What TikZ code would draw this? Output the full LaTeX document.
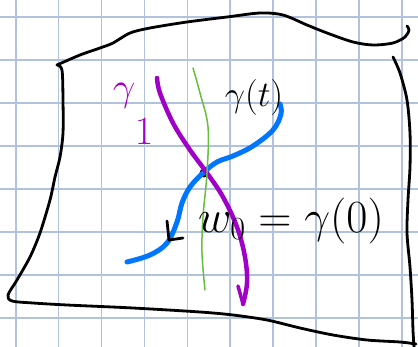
\RequirePackage{fix-cm}
\documentclass[tikz,border=0pt]{standalone}
\usepackage{tikz}
\usetikzlibrary{positioning}

\definecolor{gridblue}{RGB}{176,194,222}
\definecolor{inkpurple}{RGB}{160,0,200}
\definecolor{inkblue}{RGB}{0,118,255}
\definecolor{inkgreen}{RGB}{104,190,62}

\begin{document}
\begin{tikzpicture}[
    x=1pt, y=-1pt,
    gridline/.style={gridblue, line width=1.6pt},
    ink/.style={line width=2.8pt, line cap=round, line join=round},
    curve/.style={line cap=round, line join=round},
    hand/.style={inner sep=0pt, font=#1}
]
\useasboundingbox[fill=white] (0,0) rectangle (418,347);

% graph paper
\foreach \i in {0,...,9}
    \draw[gridline] (15.7+42.9*\i,0) -- (15.7+42.9*\i,347);
\foreach \j in {0,...,7}
    \draw[gridline] (0,17.3+43*\j) -- (418,17.3+43*\j);

% the region
\draw[ink] plot[smooth, tension=0.5] coordinates {(57,65) (80,55) (100,48) (113,43) (130,33) (150,28) (187,22) (227,17) (260,13) (283,15) (307,25) (327,33) (353,42) (373,45) (393,43) (405,37) (409,30) (407,26)};
\draw[ink] plot[smooth, tension=0.5] coordinates {(57,65) (62,70) (63,100) (63,133) (60,157) (55,177) (50,200) (40,233) (30,257) (17,280) (8,295) (12,301) (33,303) (67,305) (133,308) (200,312) (233,315) (267,320) (300,328) (333,335) (367,340) (400,342) (416,344)};
\draw[ink] plot[smooth, tension=0.5] coordinates {(393,57) (400,73) (407,100) (410,133) (410,167) (408,200) (407,233) (410,267) (412,300) (413,330) (414,347)};

% base point
\fill (204,173) circle (4.5);

% gamma(t)
\draw[curve, inkblue, line width=5pt] plot[smooth, tension=0.6] coordinates {(280,104) (281,114) (273,130) (253,146) (233,156) (217,162) (203,173) (190,187) (182,203) (177,222) (167,243) (150,255) (127,262)};
\draw[ink] (167,221) -- (169,240) -- (183,238);

% gamma_1
\draw[curve, inkpurple, line width=4.5pt] plot[smooth, tension=0.6] coordinates {(157,78) (160,93) (173,123) (190,150) (207,173) (223,197) (237,227) (245,257) (247,283) (243,304)};
\draw[curve, inkpurple, line width=3.5pt] (243,304) -- (238,286);

% green curve
\draw[curve, inkgreen, line width=1.5pt] plot[smooth, tension=0.6] coordinates {(193,68) (200,93) (208,127) (207,173) (203,217) (202,253) (205,290)};

% labels
\node[hand=\fontsize{40}{40}\selectfont, text=inkpurple, align=left] (gone) at (133,114) {$\gamma$\\[4pt]\hspace*{22pt}$1$};
\node[hand=\fontsize{36}{36}\selectfont] (gt) at (254,98) {$\gamma(t)$};
\node[hand=\fontsize{46}{46}\selectfont] (wzero) at (291,221) {$w_0=\gamma(0)$};
\end{tikzpicture}
\end{document}
